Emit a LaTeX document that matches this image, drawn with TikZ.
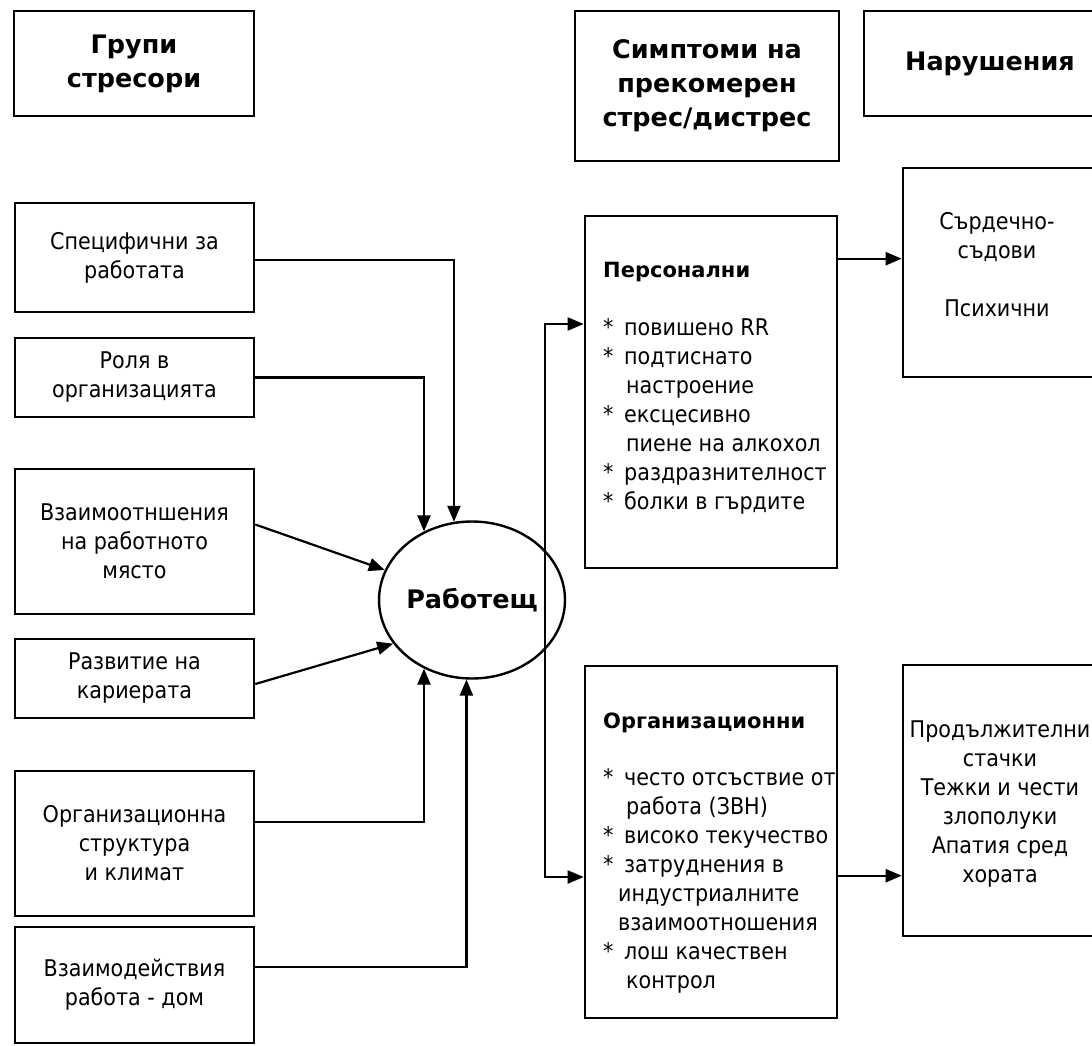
\documentclass[tikz,border=0pt]{standalone}
\usepackage{fontspec}
\setmainfont{DejaVu Sans Condensed}
\newfontfamily\widefam{DejaVu Sans}
\usetikzlibrary{arrows.meta,shapes.geometric,calc}
\newcommand{\mystar}{\makebox[21pt][l]{*}}
\newcommand{\myind}{\hspace*{23pt}}
\begin{document}
\begin{tikzpicture}[x=1pt,y=-1pt,
  box/.style={draw,line width=2.6pt,inner sep=0pt,align=center},
  conn/.style={line width=2.2pt},
  arr/.style={conn,-{Triangle[length=16pt,width=13pt]}},
  body/.style={font=\fontsize{23}{29}\selectfont},
  head/.style={font=\widefam\bfseries\fontsize{25.5}{34}\selectfont}]
\useasboundingbox (0,0) rectangle (1092,1046);
\clip (0,0) rectangle (1092,1046);
% headers
\node[box,head,minimum width=240,minimum height=105] (hg) at (134,63.5) {Групи\\стресори};
\node[box,head,minimum width=264,minimum height=150] (hs) at (707,86) {Симптоми на\\прекомерен\\стрес/дистрес};
\node[box,head,minimum width=252,minimum height=105] (hn) at (990,63.5) {Нарушения};
% stressor boxes
\node[box,body,minimum width=239,minimum height=109] (s1) at (134.5,257.5) {Специфични за\\работата};
\node[box,body,minimum width=239,minimum height=79] (s2) at (134.5,377.5) {Роля в\\организацията};
\node[box,body,minimum width=239,minimum height=145] (s3) at (134.5,541.5) {Взаимоотншения\\на работното\\място};
\node[box,body,minimum width=239,minimum height=79] (s4) at (134.5,678.5) {Развитие на\\кариерата};
\node[box,body,minimum width=239,minimum height=145] (s5) at (134.5,843.5) {Организационна\\структура\\и климат};
\node[box,body,minimum width=239,minimum height=116] (s6) at (134.5,985) {Взаимодействия\\работа - дом};
% worker
\node[draw,ellipse,line width=2.4pt,minimum width=170,minimum height=157,inner sep=0pt,
  font=\widefam\bfseries\fontsize{25.5}{30}\selectfont] (c) at (472,600) {Работещ};
% symptom boxes
\node[box,minimum width=252,minimum height=352] (pers) at (711,392) {};
\node[body,anchor=west,align=left,inner sep=0pt] (perst) at (603,388.5)
  {{\widefam\bfseries\fontsize{21}{29}\selectfont Персонални}\\[28.8pt]
   \mystar повишено RR\\
   \mystar подтиснато\\
   \myind настроение\\
   \mystar ексцесивно\\
   \myind пиене на алкохол\\
   \mystar раздразнителност\\
   \mystar болки в гърдите};
\node[box,minimum width=252,minimum height=352] (org) at (711,842) {};
\node[body,anchor=west,align=left,inner sep=0pt] (orgt) at (603,853)
  {{\widefam\bfseries\fontsize{21}{29}\selectfont Организационни}\\[28.8pt]
   \mystar често отсъствие от\\
   \myind работа (ЗВН)\\
   \mystar високо текучество\\
   \mystar затруднения в\\
   \hspace*{15pt}индустриалните\\
   \hspace*{15pt}взаимоотношения\\
   \mystar лош качествен\\
   \myind контрол};
% disorder boxes
\node[box,minimum width=193,minimum height=209] (cv) at (999.5,272.5) {};
\node[body,align=center,inner sep=0pt] (cvt) at (997,264.5) {Сърдечно-\\съдови\\[28.8pt]Психични};
\node[box,minimum width=193,minimum height=271] (pr) at (999.5,800.5) {};
\node[body,align=center,inner sep=0pt] (prt) at (1000,804) {Продължителни\\стачки\\Тежки и чести\\злополуки\\Апатия сред\\хората};
% connectors into worker
\draw[arr] ([yshift=-2.5pt]s1.east) -| (c.103);
\draw[arr] (s2.east) -| (c.125);
\draw[arr] ([yshift=17pt]s3.east) -- (c.161);
\draw[arr] ([yshift=-5.5pt]s4.east) -- (c.209);
\draw[arr] ([yshift=21.5pt]s5.east) -| (c.235);
\draw[arr] ([yshift=18pt]s6.east) -| (c.266);
% worker to symptoms
\coordinate (jt) at (545,324);
\coordinate (jb) at (545,877);
\draw[arr] (jb) -- (jt) -- (pers.west |- jt);
\draw[arr] (jt) -- (jb) -- (org.west |- jb);
% symptoms to disorders
\coordinate (p1) at ($(pers.north east)+(0,44)$);
\draw[arr] (p1) -- (cv.west |- p1);
\coordinate (o1) at ($(org.north east)+(0,211)$);
\draw[arr] (o1) -- (pr.west |- o1);
\end{tikzpicture}
\end{document}
